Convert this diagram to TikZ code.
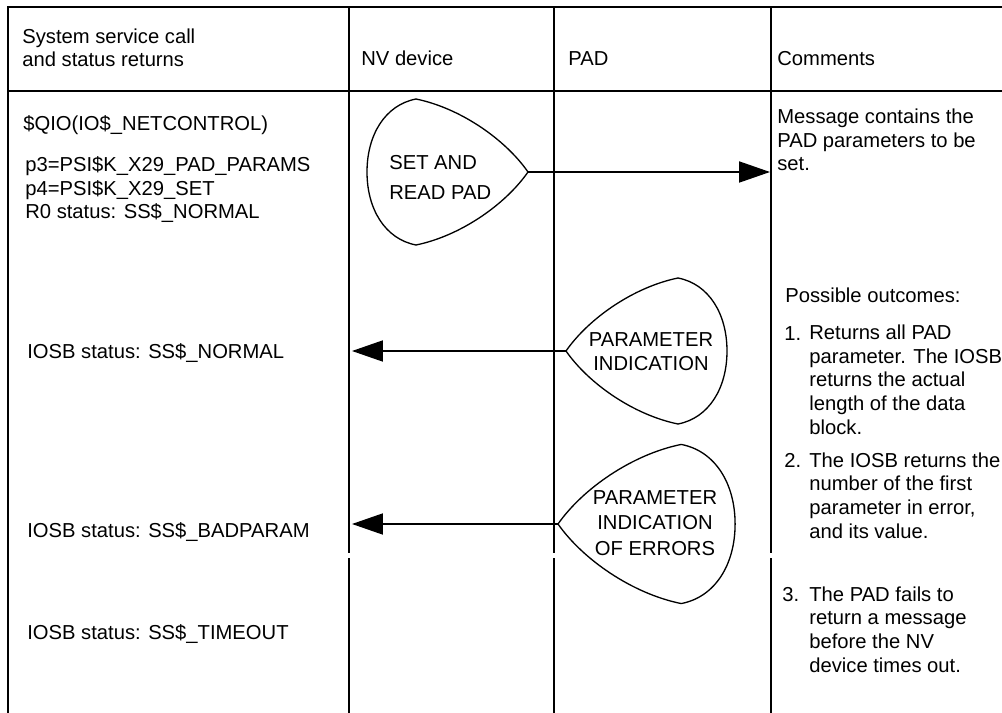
\documentclass[tikz,border=0pt]{standalone}
\usepackage{fontspec}
\setmainfont{Liberation Sans}
\usetikzlibrary{arrows.meta}

\begin{document}
\begin{tikzpicture}[
	x=0.02cm, y=-0.02cm,
	rule/.style={line width=1.1pt},
	drop/.style={line width=0.75pt},
	msg/.style={line width=0.85pt, -{Triangle[length=17.6pt,width=12pt]}},
	txt/.style={anchor=base west, inner sep=0pt, align=left,
		font=\fontsize{11.5}{13.4}\selectfont},
	droptxt/.style={anchor=base, inner sep=0pt, align=center},
	msgdrop/.pic={
		\draw[drop] (0,0) .. controls (-23,-33) and (-68,-64) .. (-112,-73)
			.. controls (-143,-67) and (-161,-37) .. (-161,0)
			.. controls (-161,37) and (-143,67) .. (-112,73)
			.. controls (-68,64) and (-23,33) .. (0,0) -- cycle;
		\coordinate (-tip) at (0,0);
	}]
\useasboundingbox (0,0) rectangle (1002,713);

% table
\draw[rule] (1002,7) -- (8,7) -- (8,713);
\draw[rule] (8,91) -- (1002,91);
\foreach \cx in {349,554,771}
	\draw[rule] (\cx,7) -- (\cx,553) (\cx,558) -- (\cx,713);

% headings (multi-line nodes sit on their last baseline)
\node[txt] (hcall) at (22,67) {System service call\\and status returns};
\node[txt] (hnv) at (361,66) {NV device};
\node[txt] (hpad) at (568,66) {PAD};
\node[txt] (hcom) at (777,66) {Comments};

% system service calls
\node[txt] (qio) at (23,131) {\$QIO(IO\$\_NETCONTROL)};
\node[txt] (params) at (25,219) {p3=PSI\$K\_X29\_PAD\_PARAMS\\p4=PSI\$K\_X29\_SET\\R0 status: SS\$\_NORMAL};
\node[txt] (stnormal) at (27,358) {IOSB status: SS\$\_NORMAL};
\node[txt] (stbad) at (27,537) {IOSB status: SS\$\_BADPARAM};
\node[txt] (sttime) at (27,639) {IOSB status: SS\$\_TIMEOUT};

% messages
\pic (sr) at (528,172) {msgdrop};
\pic[xscale=-1] (pi) at (566,351) {msgdrop};
\pic[xscale=-1.1, yscale=1.09] (pe) at (558,524) {msgdrop};

\node[txt, font=\fontsize{11.5}{17.1}\selectfont] (srtext) at (389,200) {SET AND\\READ PAD};
\node[txt, droptxt, font=\fontsize{11.5}{13.7}\selectfont] (pitext) at (651,371) {PARAMETER\\INDICATION};
\node[txt, droptxt, font=\fontsize{11.5}{14.5}\selectfont] (petext) at (655,555) {PARAMETER\\INDICATION\\OF ERRORS};

\coordinate (srend) at (770,172);
\coordinate (piend) at (352,351);
\coordinate (peend) at (352,524);
\draw[msg] (sr-tip) -- (srend);
\draw[msg] (pi-tip) -- (piend);
\draw[msg] (pe-tip) -- (peend);

% comments
\node[txt] (cmsg) at (777,171) {Message contains the\\PAD parameters to be\\set.};
\node[txt] (cout) at (785,302) {Possible outcomes:};
\node[txt] (n1) at (784,340) {1.};
\node[txt] (c1) at (809,434) {Returns all PAD\\parameter. The IOSB\\returns the actual\\length of the data\\block.};
\node[txt] (n2) at (784,467) {2.};
\node[txt] (c2) at (809,538) {The IOSB returns the\\number of the first\\parameter in error,\\and its value.};
\node[txt] (n3) at (782,601) {3.};
\node[txt] (c3) at (809,672) {The PAD fails to\\return a message\\before the NV\\device times out.};
\end{tikzpicture}
\end{document}
